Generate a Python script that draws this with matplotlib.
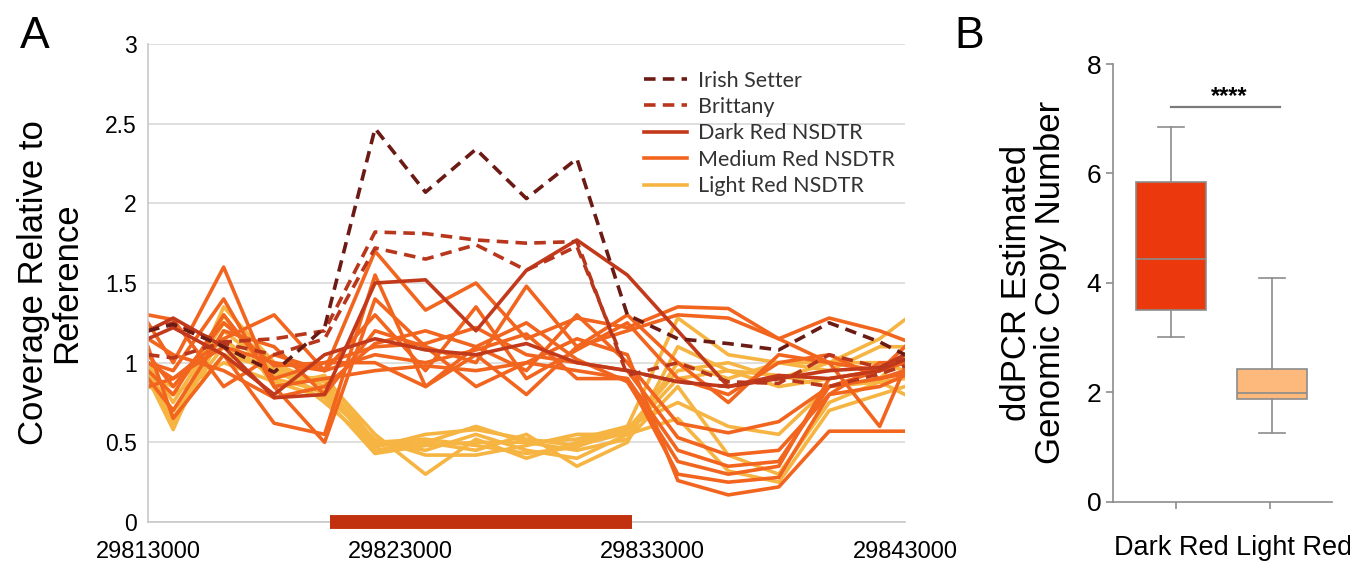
import matplotlib
matplotlib.use("Agg")
import matplotlib.pyplot as plt
from matplotlib.lines import Line2D

plt.rcParams['font.family'] = ['Liberation Sans', 'DejaVu Sans']

# ---- Panel A data: coverage relative to reference ----
positions = [29813000, 29814000, 29816000, 29818000, 29820000, 29822000, 29824000,
             29826000, 29828000, 29830000, 29832000, 29834000, 29836000, 29838000,
             29840000, 29842000, 29843000]

irish_setter = [1.20, 1.24, 1.10, 0.94, 1.22, 2.47, 2.07, 2.34, 2.03, 2.28, 1.30, 1.15, 1.12, 1.08, 1.25, 1.13, 1.05]

brittany = [
    [1.05, 1.03, 1.13, 1.15, 1.20, 1.82, 1.81, 1.77, 1.75, 1.76, 0.92, 1.00, 0.88, 0.87, 1.05, 0.97, 1.02],
    [1.20, 1.25, 1.12, 1.05, 1.15, 1.72, 1.65, 1.74, 1.58, 1.73, 0.95, 0.88, 0.85, 0.90, 0.85, 0.93, 0.98],
]

dark_red = [
    [1.20, 1.28, 1.10, 0.78, 0.80, 1.50, 1.52, 1.20, 1.58, 1.77, 1.55, 1.20, 0.85, 0.90, 0.95, 0.97, 1.05],
    [1.15, 1.22, 1.05, 0.80, 1.05, 1.15, 1.08, 1.05, 1.12, 1.00, 0.95, 0.88, 0.85, 0.92, 0.90, 0.95, 1.02],
]

medium_red = [
    [1.30, 1.27, 0.85, 1.05, 0.95, 1.70, 1.33, 1.50, 1.15, 1.28, 1.22, 1.35, 1.34, 1.15, 1.28, 1.20, 1.14],
    [1.25, 1.00, 1.60, 0.85, 0.50, 1.40, 1.10, 1.00, 1.48, 1.10, 1.20, 1.30, 1.28, 1.15, 1.00, 0.60, 0.97],
    [1.10, 0.65, 1.05, 0.62, 0.55, 1.55, 0.85, 1.10, 0.95, 1.30, 1.00, 0.62, 0.56, 0.63, 0.85, 0.95, 1.05],
    [0.95, 0.80, 1.30, 0.90, 1.00, 1.10, 1.12, 1.22, 1.05, 1.00, 0.95, 0.53, 0.42, 0.45, 0.80, 1.00, 1.00],
    [1.00, 0.90, 1.15, 1.30, 0.95, 1.05, 1.00, 1.08, 1.18, 0.90, 0.90, 0.45, 0.35, 0.38, 0.85, 0.90, 0.95],
    [0.90, 0.70, 1.20, 1.10, 0.80, 1.20, 1.10, 0.85, 1.00, 1.15, 1.05, 0.26, 0.17, 0.22, 0.57, 0.57, 0.57],
    [1.05, 0.85, 1.25, 0.98, 1.00, 1.00, 0.85, 1.05, 0.80, 1.10, 1.30, 1.00, 0.75, 1.05, 1.00, 0.95, 1.00],
    [1.00, 0.95, 1.40, 0.85, 0.90, 0.95, 0.98, 0.95, 1.00, 0.95, 0.90, 0.30, 0.25, 0.28, 0.80, 0.85, 0.92],
    [0.85, 0.90, 1.10, 1.00, 0.95, 1.30, 0.95, 1.35, 0.90, 1.08, 1.25, 0.90, 0.80, 1.00, 1.05, 0.90, 0.93],
    [1.15, 1.05, 0.95, 0.78, 0.85, 1.12, 1.20, 1.10, 1.25, 1.02, 0.88, 0.38, 0.30, 0.35, 0.90, 0.95, 1.10],
]

light_red = [
    [0.95, 0.62, 1.35, 1.00, 0.85, 0.45, 0.50, 0.60, 0.50, 0.52, 0.60, 1.28, 1.05, 1.00, 1.00, 1.15, 1.27],
    [0.90, 0.60, 1.20, 0.95, 0.80, 0.50, 0.45, 0.55, 0.45, 0.40, 0.55, 1.00, 0.90, 1.00, 0.95, 1.10, 1.10],
    [0.88, 0.70, 1.10, 0.92, 0.90, 0.55, 0.30, 0.52, 0.40, 0.50, 0.58, 0.95, 1.00, 0.90, 1.00, 1.00, 0.95],
    [1.00, 0.75, 1.25, 1.00, 0.75, 0.48, 0.50, 0.45, 0.55, 0.35, 0.50, 1.10, 0.95, 0.92, 0.85, 0.90, 1.05],
    [0.85, 0.80, 1.00, 0.88, 0.78, 0.43, 0.48, 0.50, 0.50, 0.45, 0.52, 0.85, 0.42, 0.30, 0.75, 0.88, 0.90],
    [0.92, 0.85, 1.15, 0.90, 0.82, 0.52, 0.42, 0.42, 0.48, 0.55, 0.55, 0.65, 0.32, 0.25, 0.70, 0.80, 0.85],
    [0.97, 0.66, 1.05, 0.96, 0.88, 0.47, 0.55, 0.58, 0.52, 0.48, 0.56, 0.90, 0.95, 0.85, 0.90, 0.95, 1.00],
    [0.90, 0.58, 1.30, 0.85, 0.92, 0.50, 0.52, 0.48, 0.43, 0.47, 0.60, 0.75, 0.60, 0.55, 0.85, 0.88, 0.80],
]

# duplicated region marker
region_start = 29820200
region_end = 29832200

x_ticks = [29813000, 29823000, 29833000, 29843000]

# ---- Panel B data: ddPCR copy number ----
groups = ['Dark Red', 'Light Red']
box_q1 = [3.51, 1.88]
box_med = [4.43, 1.99]
box_q3 = [5.84, 2.42]
box_low = [3.01, 1.25]
box_high = [6.85, 4.09]

# colours
c_irish = '#6B1A14'
c_britt = '#B8361C'
c_dark = '#C23A1B'
c_medium = '#F2651F'
c_light = '#F6B543'

fig = plt.figure(figsize=(13.5, 5.65), dpi=100)

# ---------------- Panel A ----------------
ax = fig.add_axes([0.1096, 0.0761, 0.5607, 0.8460])
lw = 2.6
dash = (0, (3.2, 2.0))
for ys in light_red:
    ax.plot(positions, ys, color=c_light, lw=lw)
for ys in medium_red:
    ax.plot(positions, ys, color=c_medium, lw=lw)
for ys in dark_red:
    ax.plot(positions, ys, color=c_dark, lw=lw)
for ys in brittany:
    ax.plot(positions, ys, color=c_britt, lw=lw, linestyle=dash)
ax.plot(positions, irish_setter, color=c_irish, lw=lw, linestyle=dash)

ax.set_xlim(29813000, 29843000)
ax.set_ylim(0, 3)
ax.set_yticks([0, 0.5, 1, 1.5, 2, 2.5, 3])
ax.set_yticklabels(['0', '0.5', '1', '1.5', '2', '2.5', '3'], fontsize=16.5)
ax.set_xticks(x_ticks)
ax.set_xticklabels([str(t) for t in x_ticks], fontsize=17)
ax.tick_params(axis='both', length=0)
ax.tick_params(axis='y', pad=8)
ax.tick_params(axis='x', pad=14)
ax.grid(axis='y', color='#D9D9D9', lw=1.2)
ax.set_axisbelow(True)
for s in ['top', 'right']:
    ax.spines[s].set_visible(False)
ax.spines['left'].set_color('#C8C8C8')
ax.spines['bottom'].set_color('#C8C8C8')
ax.spines['left'].set_linewidth(1.2)
ax.spines['bottom'].set_linewidth(1.2)

# red bar for the duplicated region
ax.hlines(0, region_start, region_end, color='#C1300F', lw=10, clip_on=False, zorder=5)

ax.set_ylabel('Coverage Relative to\nReference', fontsize=25, labelpad=16, linespacing=1.0)

handles = [
    Line2D([], [], color=c_irish, lw=lw, linestyle=dash),
    Line2D([], [], color=c_britt, lw=lw, linestyle=dash),
    Line2D([], [], color=c_dark, lw=lw),
    Line2D([], [], color=c_medium, lw=lw),
    Line2D([], [], color=c_light, lw=lw),
]
labels = ['Irish Setter', 'Brittany', 'Dark Red NSDTR', 'Medium Red NSDTR', 'Light Red NSDTR']
leg = ax.legend(handles, labels, loc='upper left', bbox_to_anchor=(0.63, 0.985), frameon=False,
                handlelength=2.0, handletextpad=0.5, labelspacing=0.3,
                prop={'family': ['Lato', 'DejaVu Sans'], 'size': 15.5})
for t in leg.get_texts():
    t.set_color('#333333')

fig.text(0.015, 0.915, 'A', fontsize=32)

# ---------------- Panel B ----------------
bx = fig.add_axes([0.8244, 0.112, 0.1623, 0.7747])
stats = []
for i in range(len(groups)):
    stats.append({'q1': box_q1[i], 'med': box_med[i], 'q3': box_q3[i],
                  'whislo': box_low[i], 'whishi': box_high[i], 'fliers': [], 'label': groups[i]})
bp = bx.bxp(stats, positions=[1, 2], widths=0.69, patch_artist=True, showfliers=False,
            boxprops={'edgecolor': '#8C8C8C', 'linewidth': 1.2},
            medianprops={'color': '#8C8C8C', 'linewidth': 1.2},
            whiskerprops={'color': '#8C8C8C', 'linewidth': 1.2},
            capprops={'color': '#8C8C8C', 'linewidth': 1.2}, capwidths=0.25)
for patch, col in zip(bp['boxes'], ['#EB380C', '#FDB87C']):
    patch.set_facecolor(col)

bx.set_xlim(0.426, 2.594)
bx.set_ylim(0, 8)
bx.set_yticks([0, 2, 4, 6, 8])
bx.set_yticklabels(['0', '2', '4', '6', '8'], fontsize=19)
# tick marks on major ticks, group names on minor ticks (no marks)
bx.set_xticks([1.05, 1.98])
bx.set_xticklabels(['', ''])
bx.set_xticks([1.0, 2.22], minor=True)
bx.set_xticklabels(groups, minor=True, fontsize=19.5)
bx.tick_params(axis='both', which='major', color='#8C8C8C', length=5, width=1.2)
bx.tick_params(axis='x', which='minor', length=0, pad=24)
for s in ['top', 'right']:
    bx.spines[s].set_visible(False)
bx.spines['left'].set_color('#8C8C8C')
bx.spines['bottom'].set_color('#8C8C8C')
bx.spines['left'].set_linewidth(1.2)
bx.spines['bottom'].set_linewidth(1.2)

# significance bracket
bx.plot([1.0, 2.08], [7.21, 7.21], color='#7A7A7A', lw=1.6)
bx.text(1.58, 7.2, '****', ha='center', va='bottom', fontsize=17, fontweight='bold')

bx.set_ylabel('ddPCR Estimated\nGenomic Copy Number', fontsize=25, labelpad=14, linespacing=1.05)

fig.text(0.707, 0.915, 'B', fontsize=32)

fig.savefig('out.png', dpi=100)
